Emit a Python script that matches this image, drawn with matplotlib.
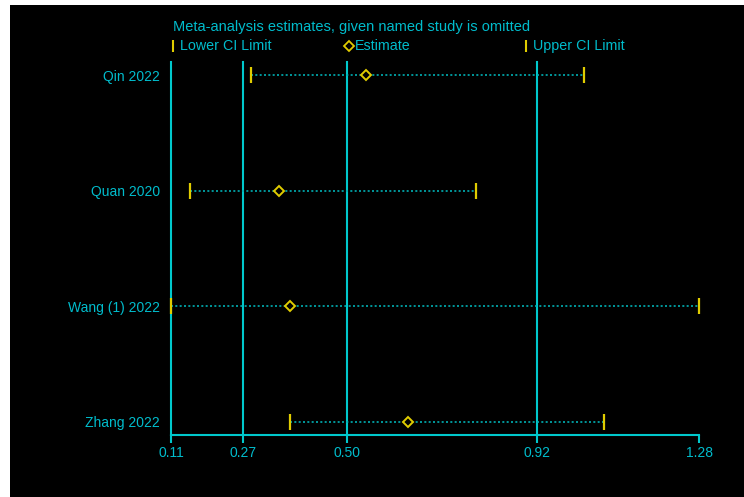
import matplotlib.pyplot as plt
from matplotlib.lines import Line2D
from matplotlib.patches import Rectangle

plt.rcParams['font.family'] = ['Liberation Sans', 'DejaVu Sans']

# studies and leave-one-out estimates
studies = ['Qin 2022', 'Quan 2020', 'Wang (1) 2022', 'Zhang 2022']
lower = [0.287, 0.152, 0.110, 0.374]
estimate = [0.542, 0.349, 0.374, 0.635]
upper = [1.025, 0.786, 1.280, 1.069]

# overall estimate and its CI, drawn as reference lines
ref_lines = [0.11, 0.27, 0.50, 0.92]
xticks = [0.11, 0.27, 0.50, 0.92, 1.28]
xticklabels = ['0.11', '0.27', '0.50', '0.92', '1.28']

cyan = '#00c8cc'
txt = '#00bccc'
dots = '#00b0b4'
yellow = '#e0cc00'

W, H = 744, 497
fig = plt.figure(figsize=(W / 100, H / 100), dpi=100, facecolor='white')
fig.add_artist(Rectangle((10 / W, 0), 1 - 10 / W, (H - 5) / H,
                         transform=fig.transFigure, facecolor='black',
                         edgecolor='none', zorder=-10))

ax = fig.add_axes([171 / W, 62 / H, (699 - 171) / W, (435 - 62) / H])
ax.set_facecolor('none')

ypos = list(range(1, len(studies) + 1))

for x in ref_lines:
    ax.axvline(x, color=cyan, lw=1.5, zorder=1, clip_on=False)

for y, lo, est, hi in zip(ypos, lower, estimate, upper):
    ax.plot([lo, hi], [y, y], color=dots, lw=1.2, ls=(0, (1.2, 1.4)), zorder=2,
            clip_on=False)
ax.plot(lower, ypos, ls='none', marker='|', ms=11, mew=1.6, color=yellow,
        zorder=3, clip_on=False)
ax.plot(upper, ypos, ls='none', marker='|', ms=11, mew=1.6, color=yellow,
        zorder=3, clip_on=False)
ax.plot(estimate, ypos, ls='none', marker='D', ms=5.5, mew=1.4,
        mfc='black', mec=yellow, zorder=4)

ax.set_xlim(0.11, 1.28)
ax.set_ylim(4.113, 0.887)

ax.set_xticks(xticks)
ax.set_xticklabels(xticklabels)
ax.set_yticks(ypos)
ax.set_yticklabels(studies)
ax.tick_params(axis='x', colors=cyan, labelcolor=txt, length=6, width=1.5,
               direction='out', labelsize=10, pad=2)
ax.tick_params(axis='y', length=0, labelcolor=txt, labelsize=10, pad=8)

for side in ['top', 'right', 'left']:
    ax.spines[side].set_visible(False)
ax.spines['bottom'].set_color(cyan)
ax.spines['bottom'].set_linewidth(1.5)

# legend drawn in figure pixels
def fx(px):
    return px / W

def fy(py):
    return 1 - py / H

fig.text(fx(173), fy(27), 'Meta-analysis estimates, given named study is omitted',
         color=txt, fontsize=10.5, va='center', ha='left')
fig.add_artist(Line2D([fx(173)], [fy(46)], marker='|', ms=9, mew=1.5,
                      color=yellow, transform=fig.transFigure))
fig.text(fx(180), fy(46), 'Lower CI Limit', color=txt, fontsize=10.3,
         va='center', ha='left')
fig.add_artist(Line2D([fx(349)], [fy(46)], marker='D', ms=5, mew=1.3,
                      mfc='black', mec=yellow, transform=fig.transFigure))
fig.text(fx(355), fy(46), 'Estimate', color=txt, fontsize=10.3,
         va='center', ha='left')
fig.add_artist(Line2D([fx(526)], [fy(46)], marker='|', ms=9, mew=1.5,
                      color=yellow, transform=fig.transFigure))
fig.text(fx(533), fy(46), 'Upper CI Limit', color=txt, fontsize=10.3,
         va='center', ha='left')

fig.savefig('out.png', dpi=100, facecolor=fig.get_facecolor())
